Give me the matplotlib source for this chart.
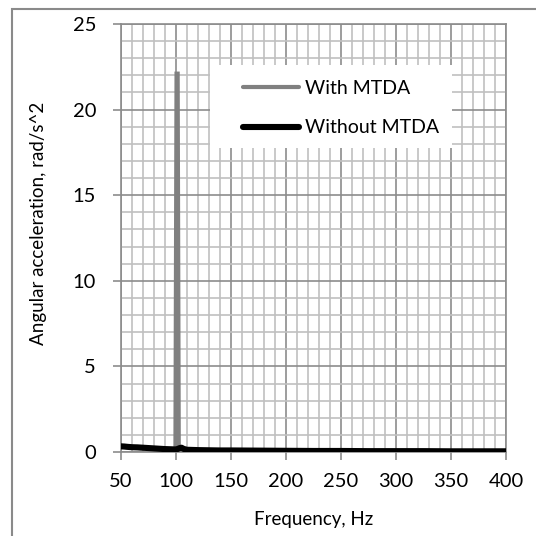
import matplotlib
matplotlib.use("Agg")
import matplotlib.pyplot as plt
from matplotlib.patches import Rectangle
from matplotlib.ticker import MultipleLocator

plt.rcParams['font.family'] = ['Lato', 'DejaVu Sans']

# Data
freq_without = [50, 53, 56, 60, 65, 70, 75, 80, 85, 90, 95, 99, 101, 103, 105, 107, 110,
                 115, 120, 130, 140, 150, 175, 200, 225, 250, 275, 300, 325, 350, 375, 400]
acc_without = [0.33, 0.32, 0.30, 0.28, 0.27, 0.25, 0.23, 0.21, 0.19, 0.17, 0.16, 0.15, 0.16, 0.22, 0.25, 0.18, 0.13,
               0.12, 0.11, 0.10, 0.09, 0.09, 0.08, 0.07, 0.06, 0.06, 0.05, 0.05, 0.05, 0.04, 0.04, 0.04]

freq_with = [50, 60, 70, 80, 90, 98, 99.5, 100.5, 101.5, 102.5, 104, 110, 150, 200, 250, 300, 350, 400]
acc_with = [0.30, 0.26, 0.22, 0.19, 0.15, 0.13, 0.2, 22.1, 22.1, 0.2, 0.12, 0.10, 0.08, 0.06, 0.05, 0.04, 0.04, 0.03]

x_ticks = [50, 100, 150, 200, 250, 300, 350, 400]
y_ticks = [0, 5, 10, 15, 20, 25]

W, H = 536, 536
AX_L, AX_R, AX_T, AX_B = 121, 506, 24, 452
fig = plt.figure(figsize=(W / 100, H / 100), dpi=100)
ax = fig.add_axes([AX_L / W, (H - AX_B) / H, (AX_R - AX_L) / W, (AX_B - AX_T) / H])


def ax_x(px):
    return (px - AX_L) / (AX_R - AX_L)


def ax_y(py):
    return (AX_B - py) / (AX_B - AX_T)


major_c = '#8c8c8c'
minor_c = '#c0c0c0'

ax.plot(freq_with, acc_with, color='#808080', lw=3.0, label='With MTDA', zorder=3,
        solid_joinstyle='miter', solid_capstyle='round')
ax.plot(freq_without, acc_without, color='black', lw=4.4, label='Without MTDA', zorder=4,
        solid_joinstyle='round', solid_capstyle='round')

ax.set_xlim(50, 400)
ax.set_ylim(0, 25)
ax.set_xticks(x_ticks)
ax.set_yticks(y_ticks)
ax.xaxis.set_minor_locator(MultipleLocator(10))
ax.yaxis.set_minor_locator(MultipleLocator(1))
ax.grid(which='minor', color=minor_c, lw=1.2, zorder=0)
ax.grid(which='major', color=major_c, lw=1.2, zorder=1)
ax.set_axisbelow(True)

for s in ['left', 'bottom', 'top', 'right']:
    ax.spines[s].set_color(major_c)
    ax.spines[s].set_linewidth(1.2)

ax.tick_params(which='major', length=6, width=1.2, color=major_c, labelsize=14.5,
               labelcolor='#000000')
ax.tick_params(axis='y', which='major', pad=12)
ax.tick_params(axis='x', which='major', pad=9)
ax.tick_params(which='minor', length=0)

ax.set_xlabel('Frequency, Hz', fontsize=13.5)
ax.xaxis.set_label_coords(0.5, ax_y(511), transform=ax.transAxes)
ax.set_ylabel('Angular acceleration, rad/s^2', fontsize=13.5)
ax.yaxis.set_label_coords(ax_x(47), ax_y(223), transform=ax.transAxes)

# Legend background box (Excel style: white, no border)
ax.add_patch(Rectangle((ax_x(210), ax_y(148)), ax_x(452) - ax_x(210), ax_y(65) - ax_y(148),
                       transform=ax.transAxes, facecolor='white', edgecolor='none', zorder=5))

leg = ax.legend(loc='upper left', bbox_to_anchor=(ax_x(243), ax_y(80)), fontsize=14,
                frameon=False, handlelength=2.9, handletextpad=0.3, borderpad=0,
                labelspacing=1.15, borderaxespad=0)
leg.set_zorder(6)

# Outer chart border (cropped at right and bottom)
fig.add_artist(Rectangle((12 / W, -0.1), 1.2, (H - 9) / H + 0.1, transform=fig.transFigure,
                         fill=False, edgecolor='#8a8a8a', lw=1.5, clip_on=False))

fig.savefig('out.png', dpi=100, facecolor='white')
